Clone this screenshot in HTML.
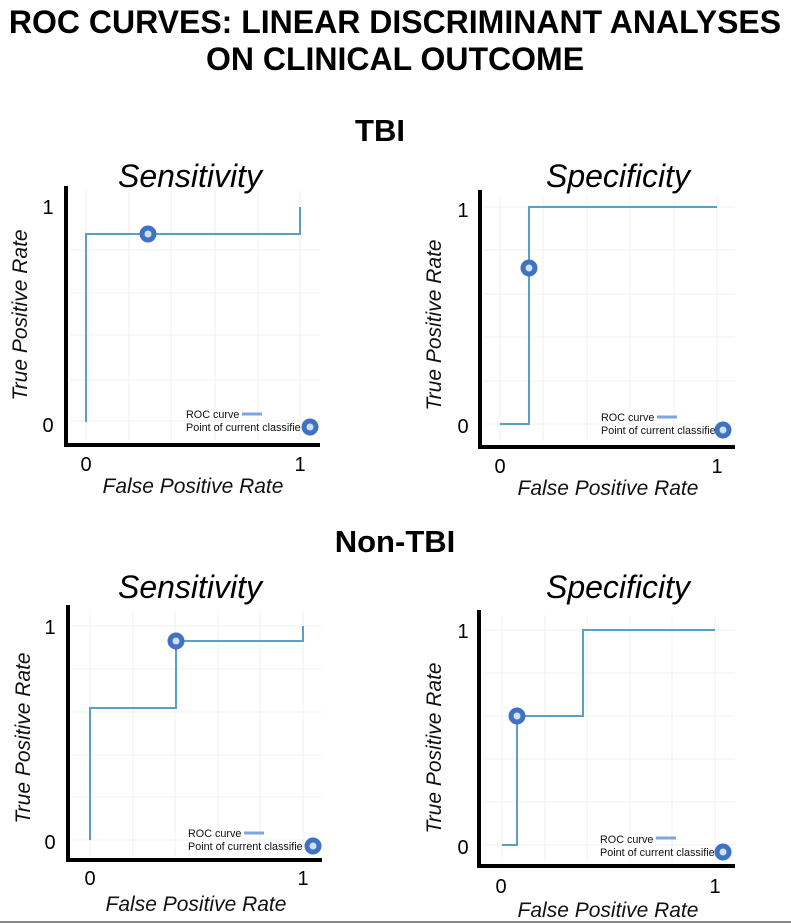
<!DOCTYPE html>
<html><head><meta charset="utf-8"><style>
html,body{margin:0;padding:0;background:#fff;}
svg{display:block;font-family:"Liberation Sans",Arial,sans-serif;}
.grid{stroke:#f0f0f0;stroke-width:1;}
.ax{stroke:#000;stroke-width:4;fill:none;}
.c{stroke:#5aa0c6;stroke-width:2;fill:none;}
.tk{font-size:20px;fill:#000;}
.at{font-size:21px;font-style:italic;fill:#111;}
.pt{font-size:32px;font-style:italic;fill:#000;}
.lg{font-size:10.8px;fill:#111;}
</style></head><body>
<svg width="791" height="924" viewBox="0 0 791 924">
<text x="395" y="33" text-anchor="middle" font-size="32" font-weight="bold">ROC CURVES: LINEAR DISCRIMINANT ANALYSES</text>
<text x="395" y="70" text-anchor="middle" font-size="32" font-weight="bold">ON CLINICAL OUTCOME</text>
<text x="380" y="141" text-anchor="middle" font-size="31" font-weight="bold">TBI</text>
<text x="395" y="552" text-anchor="middle" font-size="31" font-weight="bold">Non-TBI</text>

<defs>
<g id="mk"><circle r="8.5" fill="#3f72c4"/><circle r="3.5" fill="#cfe0f0"/></g>
</defs>

<!-- Panel 1 -->
<g>
<g class="grid">
<line x1="86" y1="190" x2="86" y2="440"/><line x1="129" y1="190" x2="129" y2="440"/><line x1="171" y1="190" x2="171" y2="440"/><line x1="215" y1="190" x2="215" y2="440"/><line x1="258" y1="190" x2="258" y2="440"/><line x1="300" y1="190" x2="300" y2="440"/>
<line x1="70" y1="250" x2="320" y2="250"/><line x1="70" y1="293" x2="320" y2="293"/><line x1="70" y1="335" x2="320" y2="335"/><line x1="70" y1="380" x2="320" y2="380"/><line x1="70" y1="421" x2="320" y2="421"/>
</g>
<polyline class="ax" points="66,186 66,445 320,445"/>
<polyline class="c" points="86,422 86,234 300,234 300,207"/>
<use href="#mk" x="148" y="234"/>
<text class="tk" x="48" y="214" text-anchor="middle">1</text>
<text class="tk" x="48" y="432" text-anchor="middle">0</text>
<text class="tk" x="86" y="471" text-anchor="middle">0</text>
<text class="tk" x="300" y="471" text-anchor="middle">1</text>
<text class="at" x="193" y="493" text-anchor="middle">False Positive Rate</text>
<text class="at" transform="translate(27,315) rotate(-90)" text-anchor="middle">True Positive Rate</text>
<text class="pt" x="190" y="187" text-anchor="middle">Sensitivity</text>
<text class="lg" x="186" y="418">ROC curve</text><line x1="242" y1="414" x2="262" y2="414" stroke="#7fa6d8" stroke-width="3"/>
<text class="lg" x="186" y="431">Point of current classifie</text><line x1="302" y1="427" x2="318" y2="427" stroke="#3f72c4" stroke-width="1.5"/><use href="#mk" x="310" y="427"/>
</g>

<!-- Panel 2 -->
<g>
<g class="grid">
<line x1="500" y1="195" x2="500" y2="442"/><line x1="543" y1="195" x2="543" y2="442"/><line x1="587" y1="195" x2="587" y2="442"/><line x1="630" y1="195" x2="630" y2="442"/><line x1="674" y1="195" x2="674" y2="442"/><line x1="717" y1="195" x2="717" y2="442"/>
<line x1="484" y1="207" x2="735" y2="207"/><line x1="484" y1="250" x2="735" y2="250"/><line x1="484" y1="294" x2="735" y2="294"/><line x1="484" y1="337" x2="735" y2="337"/><line x1="484" y1="381" x2="735" y2="381"/><line x1="484" y1="424" x2="735" y2="424"/>
</g>
<polyline class="ax" points="480,190 480,447 735,447"/>
<polyline class="c" points="500,424 529,424 529,207 717,207"/>
<use href="#mk" x="529" y="268"/>
<text class="tk" x="463" y="217" text-anchor="middle">1</text>
<text class="tk" x="463" y="433" text-anchor="middle">0</text>
<text class="tk" x="500" y="473" text-anchor="middle">0</text>
<text class="tk" x="717" y="473" text-anchor="middle">1</text>
<text class="at" x="608" y="495" text-anchor="middle">False Positive Rate</text>
<text class="at" transform="translate(441,325) rotate(-90)" text-anchor="middle">True Positive Rate</text>
<text class="pt" x="618" y="187" text-anchor="middle">Specificity</text>
<text class="lg" x="601" y="421">ROC curve</text><line x1="657" y1="417" x2="677" y2="417" stroke="#7fa6d8" stroke-width="3"/>
<text class="lg" x="601" y="434">Point of current classifie</text><line x1="715" y1="430" x2="731" y2="430" stroke="#3f72c4" stroke-width="1.5"/><use href="#mk" x="723" y="430"/>
</g>

<!-- Panel 3 -->
<g>
<g class="grid">
<line x1="90" y1="610" x2="90" y2="856"/><line x1="133" y1="610" x2="133" y2="856"/><line x1="175" y1="610" x2="175" y2="856"/><line x1="218" y1="610" x2="218" y2="856"/><line x1="260" y1="610" x2="260" y2="856"/><line x1="303" y1="610" x2="303" y2="856"/>
<line x1="72" y1="626" x2="322" y2="626"/><line x1="72" y1="669" x2="322" y2="669"/><line x1="72" y1="712" x2="322" y2="712"/><line x1="72" y1="755" x2="322" y2="755"/><line x1="72" y1="797" x2="322" y2="797"/><line x1="72" y1="840" x2="322" y2="840"/>
</g>
<polyline class="ax" points="68,605 68,860 322,860"/>
<polyline class="c" points="90,840 90,708 176,708 176,641 303,641 303,626"/>
<use href="#mk" x="176" y="641"/>
<text class="tk" x="50" y="634" text-anchor="middle">1</text>
<text class="tk" x="50" y="849" text-anchor="middle">0</text>
<text class="tk" x="90" y="885" text-anchor="middle">0</text>
<text class="tk" x="303" y="885" text-anchor="middle">1</text>
<text class="at" x="196" y="911" text-anchor="middle">False Positive Rate</text>
<text class="at" transform="translate(30,738) rotate(-90)" text-anchor="middle">True Positive Rate</text>
<text class="pt" x="190" y="598" text-anchor="middle">Sensitivity</text>
<text class="lg" x="188" y="837">ROC curve</text><line x1="244" y1="833" x2="264" y2="833" stroke="#7fa6d8" stroke-width="3"/>
<text class="lg" x="188" y="850">Point of current classifie</text><line x1="305" y1="846" x2="321" y2="846" stroke="#3f72c4" stroke-width="1.5"/><use href="#mk" x="313" y="846"/>
</g>

<!-- Panel 4 -->
<g>
<g class="grid">
<line x1="502" y1="615" x2="502" y2="862"/><line x1="545" y1="615" x2="545" y2="862"/><line x1="587" y1="615" x2="587" y2="862"/><line x1="630" y1="615" x2="630" y2="862"/><line x1="672" y1="615" x2="672" y2="862"/><line x1="715" y1="615" x2="715" y2="862"/>
<line x1="483" y1="630" x2="735" y2="630"/><line x1="483" y1="673" x2="735" y2="673"/><line x1="483" y1="716" x2="735" y2="716"/><line x1="483" y1="759" x2="735" y2="759"/><line x1="483" y1="802" x2="735" y2="802"/><line x1="483" y1="845" x2="735" y2="845"/>
</g>
<polyline class="ax" points="479,610 479,866 735,866"/>
<polyline class="c" points="502,845 517,845 517,716 583,716 583,630 715,630"/>
<use href="#mk" x="517" y="716"/>
<text class="tk" x="463" y="638" text-anchor="middle">1</text>
<text class="tk" x="463" y="854" text-anchor="middle">0</text>
<text class="tk" x="501" y="893" text-anchor="middle">0</text>
<text class="tk" x="715" y="893" text-anchor="middle">1</text>
<text class="at" x="608" y="917" text-anchor="middle">False Positive Rate</text>
<text class="at" transform="translate(441,748) rotate(-90)" text-anchor="middle">True Positive Rate</text>
<text class="pt" x="618" y="598" text-anchor="middle">Specificity</text>
<text class="lg" x="600" y="843">ROC curve</text><line x1="656" y1="838" x2="676" y2="838" stroke="#7fa6d8" stroke-width="3"/>
<text class="lg" x="600" y="856">Point of current classifie</text><line x1="715" y1="852" x2="731" y2="852" stroke="#3f72c4" stroke-width="1.5"/><use href="#mk" x="723" y="852"/>
</g>
<line x1="0" y1="922" x2="791" y2="922" stroke="#888" stroke-width="2"/>
</svg>
</body></html>
